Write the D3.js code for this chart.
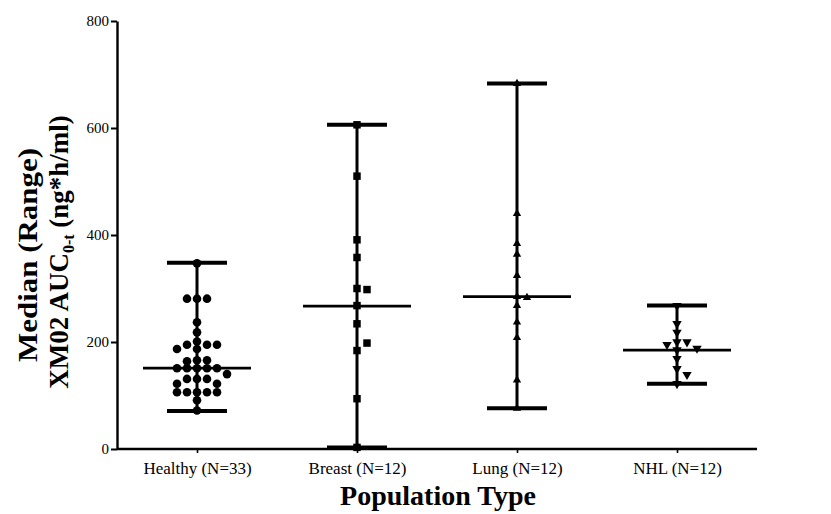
<!DOCTYPE html>
<html>
<head>
<meta charset="utf-8">
<script src="https://cdn.jsdelivr.net/npm/d3@7"></script>
<style>
  body { margin: 0; background: #fff; }
  svg { display: block; }
</style>
</head>
<body>
<svg id="chart" width="831" height="514"></svg>
<script>
// Groups and summary statistics (ng*h/ml)
const categories = ["Healthy (N=33)", "Breast (N=12)", "Lung (N=12)", "NHL (N=12)"];
const medianValues = [151, 267, 285, 185];
const minValues = [71, 3, 76, 122];
const maxValues = [348, 606, 683, 268];

// Individual subject AUC values per group
const healthyValues = [347, 281, 281, 281, 237, 218, 201, 195, 195, 195, 187, 187,
  166, 166, 164, 151, 151, 151, 151, 151, 140, 131, 131, 131, 122, 122,
  106, 106, 106, 106, 106, 91, 72];
const breastValues = [606, 510, 391, 358, 300, 298, 268, 234, 184, 198, 94, 3];
const lungValues = [683, 440, 384, 364, 324, 285, 283, 268, 237, 208, 129, 76];
const nhlValues = [268, 234, 218, 200, 200, 195, 188, 185, 169, 150, 139, 122];

const yTicks = [0, 200, 400, 600, 800];

const yTitleLine1 = "Median (Range)";
const yTitleMain = "XM02 AUC";
const yTitleSub = "0-t";
const yTitleUnit = " (ng*h/ml)";
const xTitle = "Population Type";

const svg = d3.select("#chart");
const serif = "'Liberation Serif', 'Times New Roman', serif";

const x = d3.scalePoint().domain(categories).range([117, 757]).padding(0.5);
const y = d3.scaleLinear().domain([0, 800]).range([449, 21]);

// Y axis
const yAxis = svg.append("g")
  .attr("transform", "translate(117,0)")
  .call(d3.axisLeft(y).tickValues(yTicks).tickSize(6).tickSizeOuter(0).tickPadding(2));
yAxis.select(".domain").attr("stroke", "#000").attr("stroke-width", 2.4);
yAxis.selectAll(".tick line").attr("stroke", "#000").attr("stroke-width", 2);
yAxis.selectAll(".tick text")
  .attr("font-family", serif).attr("font-size", 15).attr("fill", "#000");

// X axis
const xAxis = svg.append("g")
  .attr("transform", "translate(0,449)")
  .call(d3.axisBottom(x).tickSize(4).tickSizeOuter(0));
xAxis.select(".domain").attr("stroke", "#000").attr("stroke-width", 2.4)
  .attr("d", "M117,0H757");
xAxis.selectAll(".tick line").attr("stroke", "#000").attr("stroke-width", 1.6);
xAxis.selectAll(".tick text")
  .attr("font-family", serif).attr("font-size", 17).attr("fill", "#000")
  .attr("y", 25).attr("dy", 0);

// Range bars with median line
const groups = categories.map((c, i) => ({
  cat: c, median: medianValues[i], min: minValues[i], max: maxValues[i]
}));
const bars = svg.append("g").attr("stroke", "#000");
groups.forEach(g => {
  const cx = x(g.cat);
  bars.append("line").attr("x1", cx).attr("x2", cx)
    .attr("y1", y(g.min)).attr("y2", y(g.max)).attr("stroke-width", 3);
  [g.min, g.max].forEach(v => {
    bars.append("line").attr("x1", cx - 30).attr("x2", cx + 30)
      .attr("y1", y(v)).attr("y2", y(v)).attr("stroke-width", 4);
  });
  bars.append("line").attr("x1", cx - 54).attr("x2", cx + 54)
    .attr("y1", y(g.median)).attr("y2", y(g.median)).attr("stroke-width", 2.8);
});

// Simple dodge: place each point at the centre, else step sideways until free
function dodge(values, cx, step, dyMin) {
  const placed = [];
  const order = [0, 1, -1, 2, -2, 3, -3, 4, -4, 5, -5];
  values.forEach(v => {
    const py = y(v);
    for (const k of order) {
      const px = cx + k * step;
      const hit = placed.some(p => Math.abs(p.x - px) < step * 0.9 && Math.abs(p.y - py) < dyMin);
      if (!hit) { placed.push({ x: px, y: py, v }); break; }
    }
  });
  return placed;
}

function drawPoints(values, cat, symbolType, size, dyMin, rotate) {
  const pts = dodge(values, x(cat), 10, dyMin);
  const sym = d3.symbol().type(symbolType).size(size);
  svg.append("g").selectAll("path").data(pts).join("path")
    .attr("d", sym)
    .attr("transform", d => `translate(${d.x},${d.y})` + (rotate ? " rotate(180)" : ""))
    .attr("fill", "#000");
}

drawPoints(healthyValues, categories[0], d3.symbolCircle, 58, 6.5, false);
drawPoints(breastValues, categories[1], d3.symbolSquare, 56, 8, false);
drawPoints(lungValues, categories[2], d3.symbolTriangle, 30, 8, false);
drawPoints(nhlValues, categories[3], d3.symbolTriangle, 38, 8, true);

// Axis titles
svg.append("text")
  .attr("transform", "translate(37,255) rotate(-90)")
  .attr("text-anchor", "middle")
  .attr("font-family", serif).attr("font-weight", "bold").attr("font-size", 27)
  .attr("textLength", 214).attr("lengthAdjust", "spacingAndGlyphs")
  .text(yTitleLine1);

const t2 = svg.append("text")
  .attr("transform", "translate(68,252) rotate(-90)")
  .attr("text-anchor", "middle")
  .attr("font-family", serif).attr("font-weight", "bold").attr("font-size", 27);
t2.append("tspan").text(yTitleMain);
t2.append("tspan").attr("font-size", 16).attr("dy", 6).text(yTitleSub);
t2.append("tspan").attr("dy", -6).text(yTitleUnit);

svg.append("text")
  .attr("x", 438).attr("y", 505)
  .attr("text-anchor", "middle")
  .attr("font-family", serif).attr("font-weight", "bold").attr("font-size", 28)
  .text(xTitle);
</script>
</body>
</html>
